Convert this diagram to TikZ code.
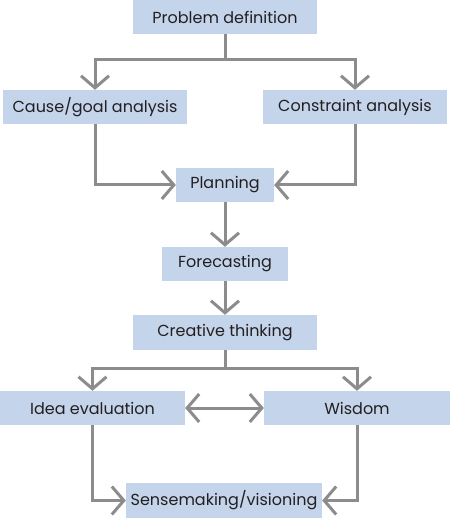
\documentclass[tikz,border=0pt]{standalone}
\usepackage{fontspec}
\setmainfont{Poppins}
\usetikzlibrary{arrows.meta}

\definecolor{boxblue}{HTML}{C4D4EB}
\definecolor{linegray}{HTML}{8C8C8C}
\definecolor{textdark}{HTML}{231F20}

\tikzset{
    stage/.style={fill=boxblue, text=textdark, minimum height=34pt, inner sep=0pt, font=\fontsize{16}{19}\selectfont},
    flow/.style={linegray, line width=3pt, -{Straight Barb[length=12pt,width=28pt]}},
    twoway/.style={linegray, line width=3pt, {Straight Barb[length=12pt,width=28pt]}-{Straight Barb[length=12pt,width=28pt]}}
}

\begin{document}
\begin{tikzpicture}[x=1pt, y=-1pt]
            \useasboundingbox (0,0) rectangle (450,518);

            \node[stage, minimum width=184pt] (pd) at (225,17) {Problem definition};
            \node[stage, minimum width=184pt] (cg) at (95,107) {Cause/goal analysis};
            \node[stage, minimum width=184pt] (ca) at (355,107) {Constraint analysis};
            \node[stage, minimum width=98pt] (pl) at (225,185) {Planning};
            \node[stage, minimum width=126pt] (fc) at (225,264) {Forecasting};
            \node[stage, minimum width=184pt, minimum height=35pt] (ct) at (225,332.5) {Creative thinking};
            \node[stage, minimum width=185pt] (ie) at (92.5,408) {Idea evaluation};
            \node[stage, minimum width=186pt] (wi) at (357,408) {Wisdom};
            \node[stage, minimum width=196pt, minimum height=35pt] (sv) at (224,500.5) {Sensemaking/visioning};

            \coordinate (split1) at (225,60);
            \coordinate (split2) at (225,368);

            \draw[linegray, line width=3pt] (pd.south) -- (split1);
            \draw[flow] (split1) -| (cg.north);
            \draw[flow] (split1) -| (ca.north);
            \draw[flow] (cg.south) |- (pl.west);
            \draw[flow] (ca.south) |- (pl.east);
            \draw[flow] (pl) -- (fc);
            \draw[flow] (fc) -- (ct);
            \draw[linegray, line width=3pt] (ct.south) -- (split2);
            \draw[flow] (split2) -| (ie.north);
            \draw[flow] (split2) -| (wi.north);
            \draw[twoway] (ie) -- (wi);
            \draw[flow] (ie.south) |- (sv.west);
            \draw[flow] (wi.south) |- (sv.east);
        \end{tikzpicture}
\end{document}
